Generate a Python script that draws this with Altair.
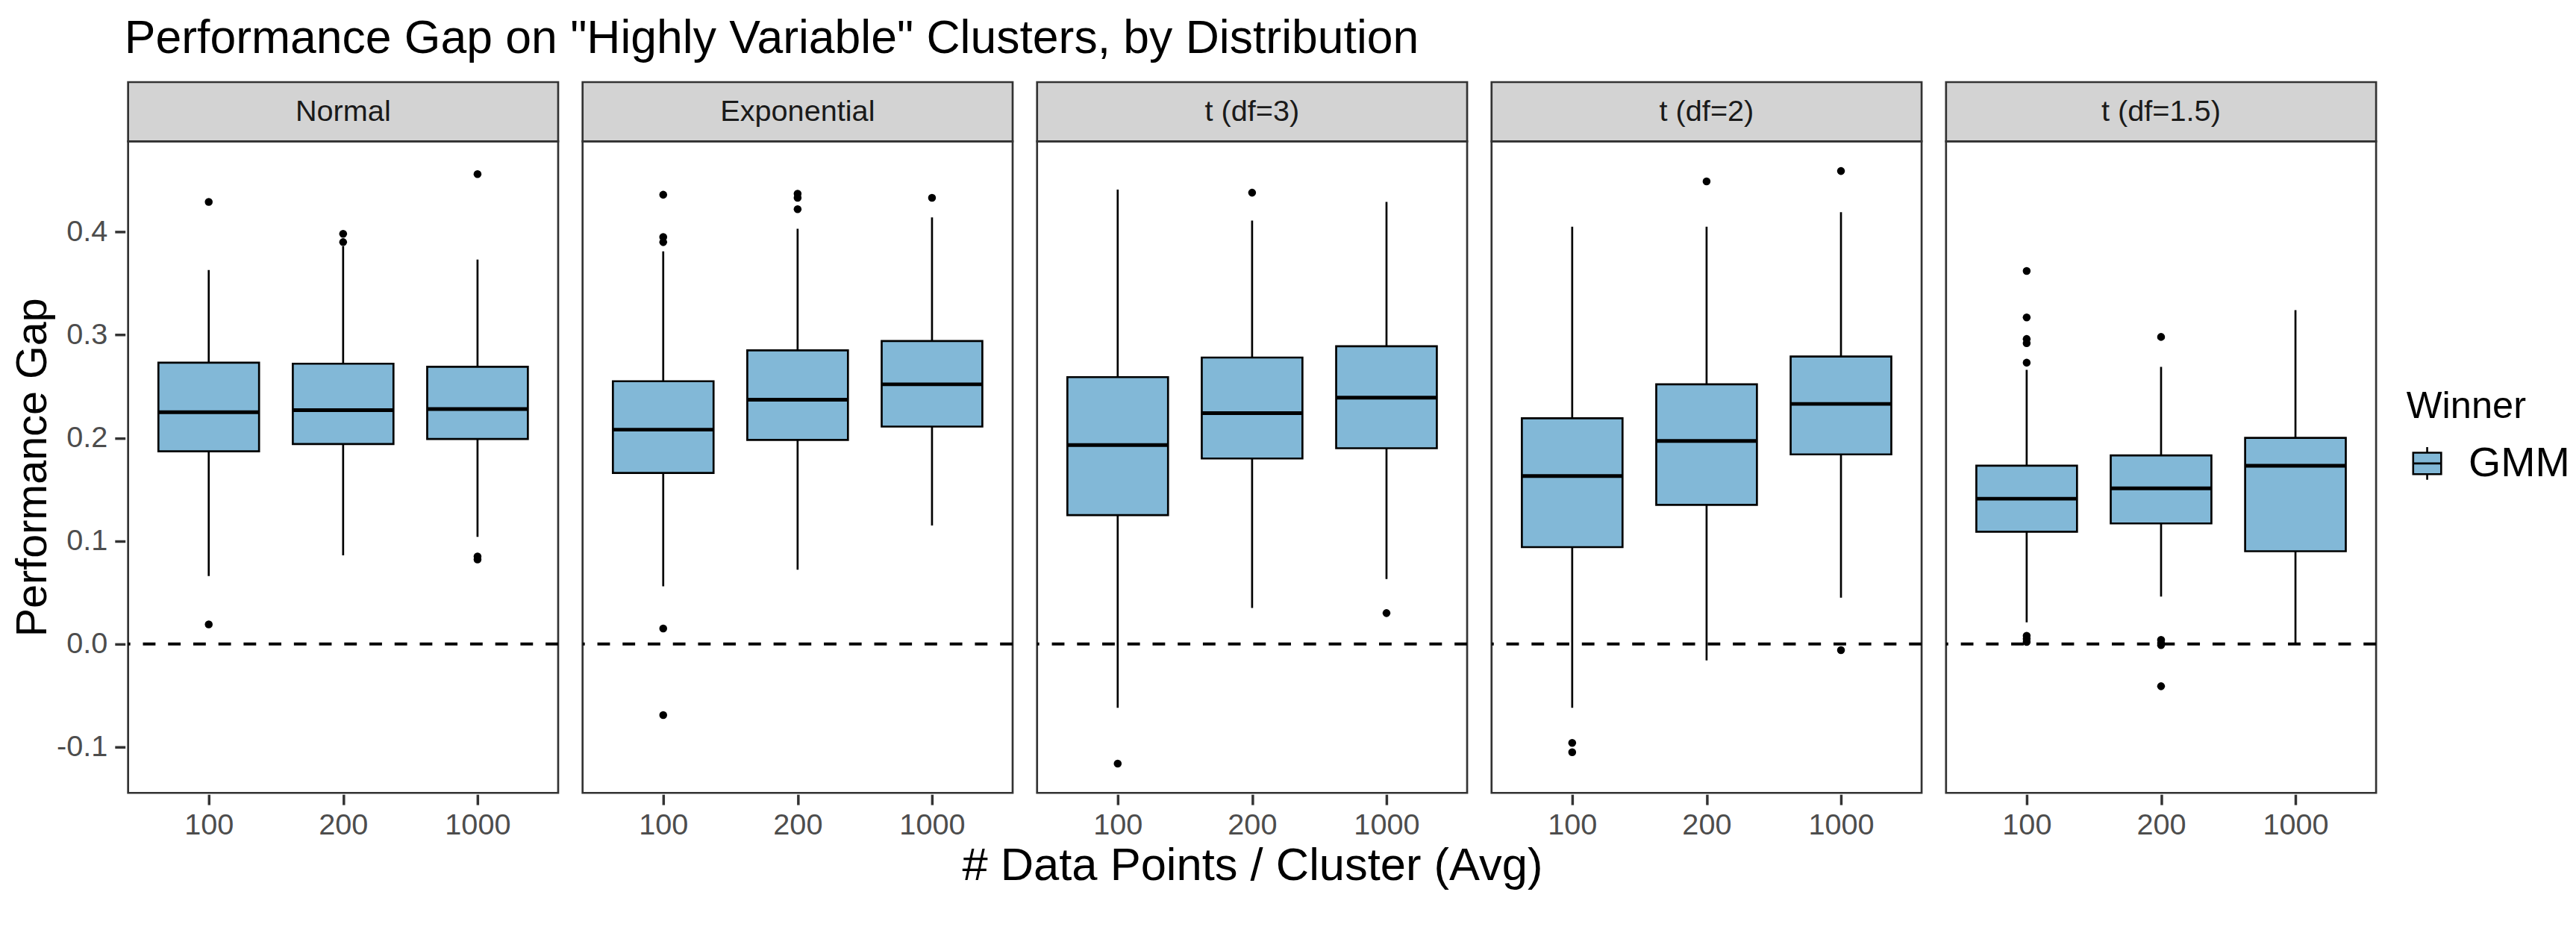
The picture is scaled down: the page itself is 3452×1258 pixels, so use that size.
import altair as alt
import pandas as pd

# ---- data ----
dists = ["Normal", "Exponential", "t (df=3)", "t (df=2)", "t (df=1.5)"]
sizes = ["100", "200", "1000"]

lower_whisker = [
    [0.066, 0.086, 0.104],
    [0.056, 0.072, 0.115],
    [-0.062, 0.035, 0.063],
    [-0.062, -0.016, 0.045],
    [0.021, 0.046, 0.001],
]
q1 = [
    [0.187, 0.194, 0.199],
    [0.166, 0.198, 0.211],
    [0.125, 0.180, 0.190],
    [0.094, 0.135, 0.184],
    [0.109, 0.117, 0.090],
]
median = [
    [0.225, 0.227, 0.228],
    [0.208, 0.237, 0.252],
    [0.193, 0.224, 0.239],
    [0.163, 0.197, 0.233],
    [0.141, 0.151, 0.173],
]
q3 = [
    [0.273, 0.272, 0.269],
    [0.255, 0.285, 0.294],
    [0.259, 0.278, 0.289],
    [0.219, 0.252, 0.279],
    [0.173, 0.183, 0.200],
]
upper_whisker = [
    [0.363, 0.386, 0.373],
    [0.381, 0.403, 0.414],
    [0.441, 0.411, 0.429],
    [0.405, 0.405, 0.419],
    [0.266, 0.269, 0.324],
]
outliers = [
    [[0.429, 0.019], [0.398, 0.390], [0.456, 0.085, 0.082]],
    [[0.436, 0.395, 0.390, 0.015, -0.069], [0.437, 0.433, 0.422], [0.433]],
    [[-0.116], [0.438], [0.030]],
    [[-0.096, -0.105], [0.449], [0.459, -0.006]],
    [[0.362, 0.317, 0.296, 0.292, 0.273, 0.008, 0.005, 0.002],
     [0.298, 0.004, 0.001, -0.001, -0.041], []],
]
y_ticks = [-0.1, -0.05, 0.0, 0.05, 0.1, 0.15, 0.2, 0.25, 0.3, 0.35, 0.4, 0.45]
winner = "GMM"

rows = []
for i, d in enumerate(dists):
    for j, s in enumerate(sizes):
        rows.append(dict(dist=d, n=s, kind="stats", winner=winner,
                         lo=lower_whisker[i][j], q1=q1[i][j], med=median[i][j],
                         q3=q3[i][j], hi=upper_whisker[i][j]))
        for v in outliers[i][j]:
            rows.append(dict(dist=d, n=s, kind="out", winner=winner, value=v))
df = pd.DataFrame(rows)

FONT = "Liberation Sans"
W, H = 581, 880
BOX_W = 136
FILL = "#82B8D7"

major = "abs(datum.value*10 - round(datum.value*10)) < 0.001"
y_scale = alt.Scale(domain=[-0.1445, 0.4878], nice=False, zero=False)
y_axis = alt.Axis(
    values=y_ticks,
    labelExpr=f"{major} ? ((datum.value < -0.0001 ? '-' : '') + format(abs(datum.value), '.1f')) : ''",
    gridWidth={"condition": {"test": major, "value": 4}, "value": 2},
    tickOpacity={"condition": {"test": major, "value": 1}, "value": 0},
    titleFontSize=58, titleColor="black", titleFontWeight="normal", titlePadding=2,
    labelPadding=10,
)
x_enc = alt.X("n:N", sort=sizes,
              scale=alt.Scale(type="point", padding=0.6),
              axis=alt.Axis(labelAngle=0, title=None, gridWidth=4, labelPadding=8))

one = alt.datum.kind == "stats"
first = (alt.datum.kind == "stats") & (alt.datum.n == "100")

strip = alt.Chart().mark_rect(fill="#D3D3D3", stroke="#333333", strokeWidth=2.7).encode(
    x=alt.value(0), x2=alt.value(W), y=alt.value(-80), y2=alt.value(0)
).transform_filter(first)

strip_text = alt.Chart().mark_text(fontSize=40, color="#1A1A1A", font=FONT, baseline="middle").encode(
    x=alt.value(W / 2), y=alt.value(-40), text="dist:N"
).transform_filter(first)

zero = alt.Chart().mark_rule(color="black", strokeWidth=4, strokeDash=[17, 17]).encode(
    y=alt.datum(0, scale=y_scale, axis=y_axis, title="Performance Gap")
).transform_filter(first)

whisk = alt.Chart().mark_rule(color="black", strokeWidth=2.7).encode(
    x=x_enc,
    y=alt.Y("lo:Q", scale=y_scale, axis=y_axis, title="Performance Gap"),
    y2="hi:Q",
).transform_filter(one)

box = alt.Chart().mark_bar(size=BOX_W, stroke="black", strokeWidth=2.7, opacity=1).encode(
    x=x_enc,
    y=alt.Y("q1:Q", scale=y_scale, axis=y_axis, title="Performance Gap"),
    y2="q3:Q",
    fill=alt.Fill("winner:N", scale=alt.Scale(range=[FILL]),
                  legend=alt.Legend(
                      title="Winner", orient="none", legendX=3078, legendY=334,
                      titleFontSize=51, titleFontWeight="normal", titleColor="black",
                      labelFontSize=56, labelColor="black", titlePadding=22,
                      symbolType="M-0.86,-0.66H0.86V0.66H-0.86Z M0,-0.66V-1 M0,0.66V1 M-0.86,0H0.86",
                      symbolSize=1936, symbolStrokeColor="black", symbolStrokeWidth=2.6,
                      symbolFillColor=FILL, labelOffset=28)),
).transform_filter(one)

med = alt.Chart().mark_tick(size=BOX_W, thickness=5, color="black", opacity=1).encode(
    x=x_enc,
    y=alt.Y("med:Q", scale=y_scale, axis=y_axis, title="Performance Gap"),
).transform_filter(one)

pts = alt.Chart().mark_circle(size=113, color="black", opacity=1).encode(
    x=x_enc,
    y=alt.Y("value:Q", scale=y_scale, axis=y_axis, title="Performance Gap"),
).transform_filter(alt.datum.kind == "out")

layered = alt.layer(strip, strip_text, zero, whisk, box, med, pts, data=df).properties(width=W, height=H)

chart = layered.facet(
    column=alt.Column("dist:N", sort=dists, title="# Data Points / Cluster (Avg)",
                      header=alt.Header(labels=False, titleOrient="bottom", titleFontSize=62,
                                        titleColor="black", titleFontWeight="normal",
                                        titleFont=FONT, titlePadding=-5)),
    spacing=25,
).properties(
    title=alt.TitleParams('Performance Gap on "Highly Variable" Clusters, by Distribution',
                          anchor="start", fontSize=63, fontWeight="normal", color="black",
                          font=FONT, offset=24, dx=152),
    padding={"left": 8, "top": 8, "right": 0, "bottom": 0},
).configure(font=FONT).configure_view(
    stroke="#333333", strokeWidth=2.7
).configure_axis(
    domain=False, tickColor="#333333", tickWidth=3.5, tickSize=14,
    labelColor="#4D4D4D", labelFontSize=40, labelFont=FONT,
    gridColor="#EBEBEB", titleFont=FONT,
)

chart.save("out.html", embed_options={"renderer": "svg", "actions": False})
